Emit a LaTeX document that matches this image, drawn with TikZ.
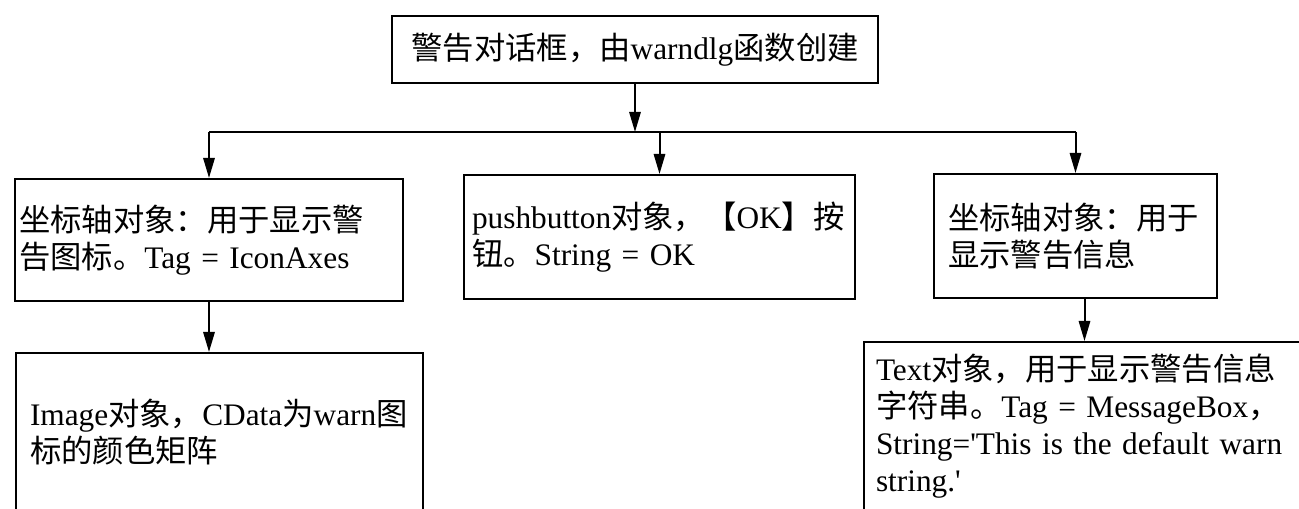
\documentclass[tikz,border=0pt]{standalone}
\usepackage{fontspec}
\setmainfont{Liberation Serif}
\newfontfamily\cjkf{Noto Sans CJK SC}
\newcommand\zh[1]{{\cjkf #1}}
\usetikzlibrary{arrows.meta}
\tikzset{
  box/.style={draw, line width=1.5pt, anchor=north west, inner ysep=0pt,
    align=left, font=\fontsize{23.5pt}{27.75pt}\selectfont},
  arr/.style={line width=1.5pt, -{Triangle[length=15pt,width=8.5pt]}},
  conn/.style={line width=1.5pt}
}
\begin{document}
\begin{tikzpicture}[x=0.75pt,y=-0.75pt]
\useasboundingbox (0,0) rectangle (1299,509);
\fill[white] (0,0) rectangle (1299,509);
\clip (0,0) rectangle (1299,509);

\node[box, align=center, minimum width=364.5pt, minimum height=50.25pt] (T) at (391,15)
  {\zh{警告对话框，由}warndlg\zh{函数创建}};

\node[box, text width=285pt, inner xsep=3pt, minimum height=91.5pt] (L) at (14,178)
  {\zh{坐标轴对象：用于显示警}\\\zh{告图标。}Tag = IconAxes};

\node[box, text width=281.25pt, inner xsep=6pt, minimum height=93pt] (M) at (463,174)
  {pushbutton\zh{对象，【}OK\zh{】按}\\\zh{钮。}String = OK};

\node[box, text width=191.25pt, inner xsep=10.5pt, minimum height=93pt] (R) at (933,173)
  {\zh{坐标轴对象：用于}\\\zh{显示警告信息}};

\node[box, text width=284.25pt, inner xsep=10.5pt, minimum height=118pt] (IL) at (15,352)
  {Image\zh{对象，}CData\zh{为}warn\zh{图}\\\zh{标的颜色矩阵}};

\node[box, text width=319.5pt, inner xsep=9pt, minimum height=126.4pt] (TX) at (863,341)
  {Text\zh{对象，用于显示警告信息}\\\zh{字符串。}Tag = MessageBox\zh{，}\\String=\textquotesingle This is the default warn\\string.\textquotesingle};

\coordinate (hl) at (0,132);
\draw[arr] (T.south) -- (T.south |- hl);
\draw[conn] (L.north |- hl) -- (R.north |- hl);
\draw[arr] (L.north |- hl) -- (L.north);
\draw[arr] (M.north |- hl) -- (M.north);
\draw[arr] (R.north |- hl) -- (R.north);
\draw[arr] (L.south) -- (L.south |- IL.north);
\draw[arr] ([xshift=6.75pt]R.south) -- ([xshift=6.75pt]R.south |- TX.north);
\end{tikzpicture}
\end{document}
